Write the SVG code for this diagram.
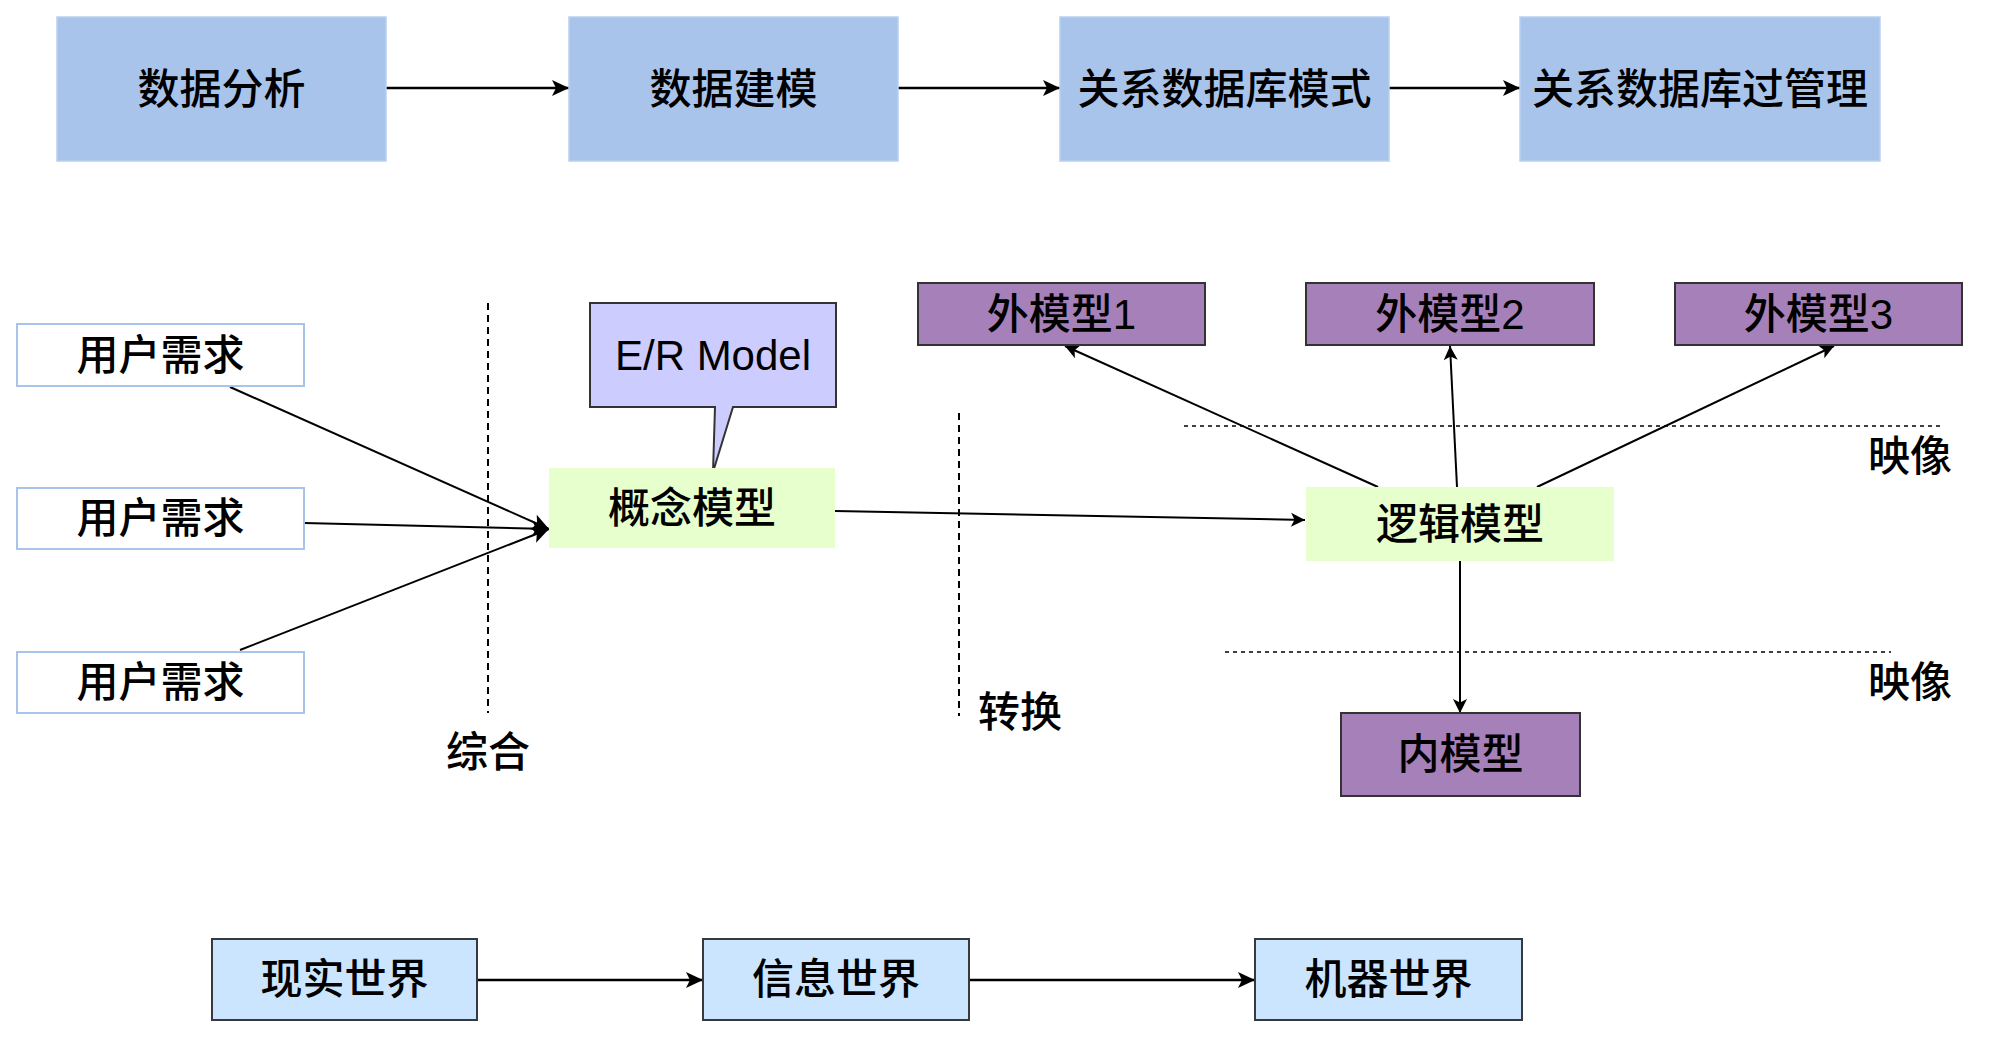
<svg xmlns="http://www.w3.org/2000/svg" width="2000" height="1038" viewBox="0 0 2000 1038">
<defs>
<marker id="arrL" markerUnits="userSpaceOnUse" markerWidth="18" markerHeight="16" refX="17" refY="8" orient="auto" overflow="visible">
<path d="M0,0 L17,8 L0,16 L4,8 Z" fill="#000"/>
</marker>
<marker id="arr" markerUnits="userSpaceOnUse" markerWidth="15" markerHeight="14" refX="14" refY="7" orient="auto" overflow="visible">
<path d="M0,0 L14,7 L0,14 L3.5,7 Z" fill="#000"/>
</marker>
<style>
text{font-family:"Liberation Sans","Noto Sans CJK SC",sans-serif;font-size:42px;font-weight:500;fill:#000;text-anchor:middle;dominant-baseline:central}
.top{fill:#A9C4EB;stroke:#B9D0EF;stroke-width:1.5}
.user{fill:#fff;stroke:#A9C4EB;stroke-width:2}
.green{fill:#E6FFCC;stroke:none}
.purple{fill:#A680B8;stroke:#333;stroke-width:2}
.world{fill:#CCE5FF;stroke:#36393d;stroke-width:2}
.call{fill:#CCCCFF;stroke:#333;stroke-width:2}
.c{fill:none;stroke:#000;stroke-width:2.5}
.t{fill:none;stroke:#000;stroke-width:2}
.dv{fill:none;stroke:#000;stroke-width:2;stroke-dasharray:7 5}
.dh{fill:none;stroke:#000;stroke-width:1.5;stroke-dasharray:4 4}
</style>
</defs>
<rect width="2000" height="1038" fill="#fff"/>

<g id="connectors">
<line class="c" x1="386" y1="88" x2="569" y2="88" marker-end="url(#arrL)"/>
<line class="c" x1="898" y1="88" x2="1060" y2="88" marker-end="url(#arrL)"/>
<line class="c" x1="1389" y1="88" x2="1520" y2="88" marker-end="url(#arrL)"/>
<line class="t" x1="230" y1="387" x2="549" y2="529" marker-end="url(#arrL)"/>
<line class="t" x1="304" y1="523" x2="549" y2="529" marker-end="url(#arrL)"/>
<line class="t" x1="240" y1="650" x2="549" y2="529" marker-end="url(#arrL)"/>
<line class="t" x1="835" y1="511" x2="1305" y2="520" marker-end="url(#arr)"/>
<line class="t" x1="1378" y1="487" x2="1065" y2="346" marker-end="url(#arr)"/>
<line class="t" x1="1457" y1="487" x2="1450" y2="346" marker-end="url(#arr)"/>
<line class="t" x1="1537" y1="487" x2="1834" y2="346" marker-end="url(#arr)"/>
<line class="t" x1="1460" y1="561" x2="1460" y2="713" marker-end="url(#arr)"/>
<line class="c" x1="477" y1="980" x2="703" y2="980" marker-end="url(#arrL)"/>
<line class="c" x1="969" y1="980" x2="1255" y2="980" marker-end="url(#arrL)"/>
</g>

<g id="dividers">
<line class="dv" x1="488" y1="303" x2="488" y2="713"/>
<line class="dv" x1="959" y1="413" x2="959" y2="716"/>
<line class="dh" x1="1184" y1="426" x2="1941" y2="426"/>
<line class="dh" x1="1225" y1="652" x2="1891" y2="652"/>
<text x="488" y="752">综合</text>
<text x="1020" y="712">转换</text>
<text x="1910" y="456">映像</text>
<text x="1910" y="682">映像</text>
</g>

<g id="n-data-analysis"><rect class="top" x="57" y="17" width="329" height="144"/><text x="221.5" y="89">数据分析</text></g>
<g id="n-data-modeling"><rect class="top" x="569" y="17" width="329" height="144"/><text x="733.5" y="89">数据建模</text></g>
<g id="n-rdb-schema"><rect class="top" x="1060" y="17" width="329" height="144"/><text x="1224.5" y="89">关系数据库模式</text></g>
<g id="n-rdb-manage"><rect class="top" x="1520" y="17" width="360" height="144"/><text x="1700" y="89">关系数据库过管理</text></g>

<g id="n-user1"><rect class="user" x="17" y="324" width="287" height="62"/><text x="160.5" y="355">用户需求</text></g>
<g id="n-user2"><rect class="user" x="17" y="488" width="287" height="61"/><text x="160.5" y="518.5">用户需求</text></g>
<g id="n-user3"><rect class="user" x="17" y="652" width="287" height="61"/><text x="160.5" y="682.5">用户需求</text></g>

<g id="n-er-callout"><path class="call" d="M590,303 H836 V407 H733 L713,472 L715,407 H590 Z"/><text x="713" y="355">E/R Model</text></g>
<g id="n-conceptual"><rect class="green" x="549" y="468" width="286" height="80"/><text x="692" y="508">概念模型</text></g>
<g id="n-logical"><rect class="green" x="1306" y="487" width="308" height="74"/><text x="1460" y="524">逻辑模型</text></g>

<g id="n-ext1"><rect class="purple" x="918" y="283" width="287" height="62"/><text x="1061.5" y="314">外模型1</text></g>
<g id="n-ext2"><rect class="purple" x="1306" y="283" width="288" height="62"/><text x="1450" y="314">外模型2</text></g>
<g id="n-ext3"><rect class="purple" x="1675" y="283" width="287" height="62"/><text x="1818.5" y="314">外模型3</text></g>
<g id="n-internal"><rect class="purple" x="1341" y="713" width="239" height="83"/><text x="1460.5" y="754.5">内模型</text></g>

<g id="n-real"><rect class="world" x="212" y="939" width="265" height="81"/><text x="344.5" y="979.5">现实世界</text></g>
<g id="n-info"><rect class="world" x="703" y="939" width="266" height="81"/><text x="836" y="979.5">信息世界</text></g>
<g id="n-machine"><rect class="world" x="1255" y="939" width="267" height="81"/><text x="1388.5" y="979.5">机器世界</text></g>
</svg>
